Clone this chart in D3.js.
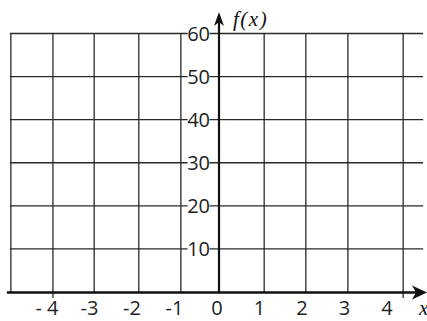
<!DOCTYPE html>
<html>
<head>
<meta charset="utf-8">
<script src="https://cdn.jsdelivr.net/npm/d3@7"></script>
<style>
  html, body { margin: 0; padding: 0; background: #fff; }
  svg { display: block; }
</style>
</head>
<body>
<svg id="chart" width="427" height="321"></svg>
<script>
// ---- data ----
const xTicks = [-4, -3, -2, -1, 0, 1, 2, 3, 4];
const xTickLabels = ["- 4", "-3", "-2", "-1", "0", "1", "2", "3", "4"];
const yTicks = [10, 20, 30, 40, 50, 60];
const yTickLabels = ["10", "20", "30", "40", "50", "60"];
// vertical grid lines as read from the (hand-drawn) grid, in x units
const gridX = [-4.85, -3.86, -2.89, -1.84, -0.85, 1.11, 2.09, 3.08, 4.38];
const gridXEdge = 4.85;
const gridY = [10, 20, 30, 40, 50, 60];
const xLabel = "x";
const yLabel = "f(x)";

// ---- layout ----
const svg = d3.select("#chart");
const x = d3.scaleLinear().domain([-4, 4]).range([217 - 4 * 42.5, 217 + 4 * 42.5]);
const y = d3.scaleLinear().domain([0, 60]).range([292, 33.5]);
const ink = "#2a2a2a";

// horizontal grid lines
svg.append("g").selectAll("line").data(gridY).join("line")
  .attr("x1", x(-gridXEdge) - 1).attr("x2", x(gridXEdge))
  .attr("y1", d => y(d)).attr("y2", d => y(d))
  .attr("stroke", ink).attr("stroke-width", 1.3);

// vertical grid lines
svg.append("g").selectAll("line").data(gridX).join("line")
  .attr("x1", d => x(d)).attr("x2", d => x(d))
  .attr("y1", y(60))
  .attr("y2", (d, i) => (i === 1 || i === gridX.length - 1) ? y(0) + 6 : y(0))
  .attr("stroke", ink).attr("stroke-width", 1.3);

// y tick labels with white background
const yl = svg.append("g").selectAll("g").data(yTicks).join("g");
yl.append("rect").attr("class", "bg");
yl.append("text")
  .attr("x", x(0) - 7)
  .attr("y", d => y(d))
  .attr("dy", "0.36em")
  .attr("text-anchor", "end")
  .attr("font-family", "'Open Sans', sans-serif")
  .attr("font-size", 20)
  .attr("fill", "#222")
  .text((d, i) => yTickLabels[i]);
yl.each(function() {
  const g = d3.select(this);
  const bb = g.select("text").node().getBBox();
  g.select("rect").attr("x", bb.x + 0.5).attr("y", bb.y + 2).attr("width", bb.width - 1).attr("height", bb.height - 4)
    .attr("fill", "#fff");
});

// x axis
svg.append("line")
  .attr("x1", x(-gridXEdge) - 4).attr("x2", 424)
  .attr("y1", y(0) + 0.5).attr("y2", y(0) + 0.5)
  .attr("stroke", "#111").attr("stroke-width", 2.6);
svg.append("path")
  .attr("d", `M427,${y(0) + 0.5} L412,${y(0) - 6.5} L416,${y(0) + 0.5} L412,${y(0) + 7.5} Z`)
  .attr("fill", "#111");

// y axis
svg.append("line")
  .attr("x1", x(0) + 2).attr("x2", x(0) + 2)
  .attr("y1", y(0)).attr("y2", 16)
  .attr("stroke", "#111").attr("stroke-width", 2.2);
svg.append("path")
  .attr("d", `M${x(0) + 2},12 L${x(0) - 3},26 L${x(0) + 2},22 L${x(0) + 7},26 Z`)
  .attr("fill", "#111");

// x tick labels
svg.append("g").selectAll("text").data(xTicks).join("text")
  .attr("x", d => x(d))
  .attr("y", 315)
  .attr("text-anchor", "middle")
  .attr("font-family", "'Open Sans', sans-serif")
  .attr("font-size", 20)
  .attr("fill", "#222")
  .text((d, i) => xTickLabels[i]);

// axis titles
svg.append("text")
  .attr("x", 233).attr("y", 26)
  .attr("font-family", "'Liberation Serif', serif")
  .attr("font-style", "italic")
  .attr("font-size", 21)
  .attr("letter-spacing", 1.5)
  .attr("fill", "#111")
  .text(yLabel);
svg.append("text")
  .attr("x", 419).attr("y", 315)
  .attr("font-family", "'Liberation Serif', serif")
  .attr("font-style", "italic")
  .attr("font-size", 21)
  .attr("fill", "#111")
  .text(xLabel);
</script>
</body>
</html>
